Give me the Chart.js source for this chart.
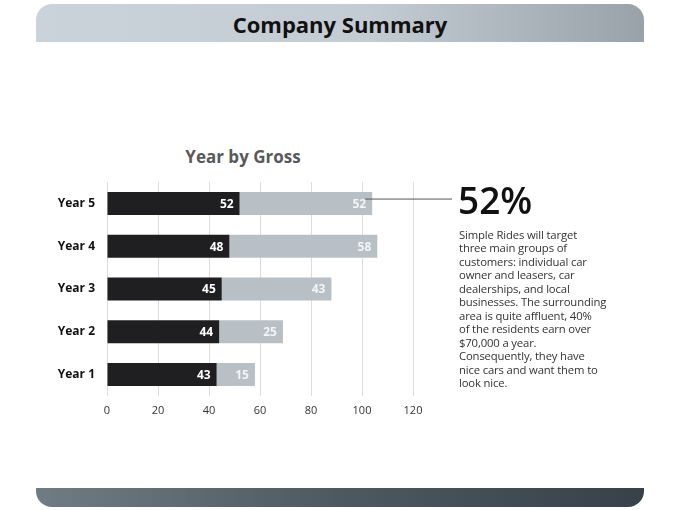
<!DOCTYPE html>
<html>
<head>
<meta charset="utf-8">
<script src="https://cdn.jsdelivr.net/npm/chart.js@4"></script>
<style>
  body { margin: 0; width: 680px; height: 510px; background: #fff; position: relative; overflow: hidden; font-family: "Open Sans", "Noto Sans", sans-serif; }
  .header { position: absolute; left: 36px; top: 4px; width: 608px; height: 38px; border-radius: 16px 16px 0 0;
    background: linear-gradient(90deg, #cbd3da 0%, #c3ccd3 55%, #9aa2a9 100%); }
  .header h1 { margin: 0; font-size: 22px; line-height: 40px; text-align: center; font-weight: 700; color: #111; }
  .footer { position: absolute; left: 36px; top: 488px; width: 608px; height: 19px; border-radius: 0 0 16px 16px;
    background: linear-gradient(90deg, #707c83 0%, #4d5860 50%, #38414a 100%); }
  .ctitle { position: absolute; left: 143px; top: 145px; width: 200px; text-align: center; font-size: 17px; font-weight: 700; color: #595959; }
  .chart { position: absolute; left: 40px; top: 163px; width: 420px; height: 266px; }
  .big { position: absolute; left: 458px; top: 178px; font-size: 37px; font-weight: 600; color: #111; line-height: 44px; }
  .para { position: absolute; left: 459px; top: 228px; font-size: 11.3px; line-height: 13.45px; letter-spacing: -0.15px; color: #333; }
</style>
</head>
<body>
<div class="header"><h1>Company Summary</h1></div>
<div class="ctitle">Year by Gross</div>
<div class="chart"><canvas id="chart-1"></canvas></div>
<div class="big">52%</div>
<div class="para">Simple Rides will target<br>three main groups of<br>customers: individual car<br>owner and leasers, car<br>dealerships, and local<br>businesses. The surrounding<br>area is quite affluent, 40%<br>of the residents earn over<br>$70,000 a year.<br>Consequently, they have<br>nice cars and want them to<br>look nice.</div>
<div class="footer"></div>
<script>
const years = ["Year 5", "Year 4", "Year 3", "Year 2", "Year 1"];
const darkValues = [52, 48, 45, 44, 43];
const lightValues = [52, 58, 43, 25, 15];

// white value labels at the end of each segment, plus the callout line
const barLabels = {
  id: "barLabels",
  afterDatasetsDraw(chart) {
    const ctx = chart.ctx;
    ctx.save();
    ctx.font = "bold 12px 'Open Sans', sans-serif";
    ctx.textAlign = "right";
    ctx.textBaseline = "middle";
    chart.data.datasets.forEach((ds, i) => {
      chart.getDatasetMeta(i).data.forEach((bar, j) => {
        ctx.fillStyle = i === 0 ? "#ffffff" : "#f2f4f5";
        ctx.fillText(ds.data[j], bar.x - 6, bar.y + 1);
      });
    });
    const top = chart.getDatasetMeta(1).data[0];
    ctx.strokeStyle = "#555";
    ctx.lineWidth = 1;
    ctx.beginPath();
    ctx.moveTo(top.x - 7, top.y - 4.5);
    ctx.lineTo(chart.width - 8, top.y - 4.5);
    ctx.stroke();
    ctx.restore();
  }
};

const ctx1 = document.getElementById("chart-1").getContext("2d");
const myChart = new Chart(ctx1, {
  type: "bar",
  data: {
    labels: years,
    datasets: [
      { label: "Dark", data: darkValues, backgroundColor: "#1f1f21" },
      { label: "Light", data: lightValues, backgroundColor: "#b8c0c6" },
    ],
  },
  options: {
    indexAxis: "y",
    responsive: true,
    maintainAspectRatio: false,
    animation: false,
    layout: { padding: { top: 0, right: 47, bottom: 4, left: 0 } },
    datasets: { bar: { categoryPercentage: 1, barPercentage: 0.54 } },
    plugins: { legend: { display: false }, tooltip: { enabled: false } },
    scales: {
      x: {
        stacked: true,
        min: 0,
        max: 120,
        ticks: { stepSize: 20, padding: 8, color: "#333", font: { size: 11, family: "'Open Sans', sans-serif" } },
        grid: { color: "#dcdcdc", drawTicks: false },
        border: { display: false },
      },
      y: {
        stacked: true,
        ticks: { padding: 12, color: "#111", font: { size: 12, weight: "bold", family: "'Open Sans', sans-serif" } },
        grid: { display: false, drawTicks: false },
        border: { display: false },
        afterFit: (scale) => { scale.width = 67; },
      },
    },
  },
  plugins: [barLabels],
});
</script>
</body>
</html>
